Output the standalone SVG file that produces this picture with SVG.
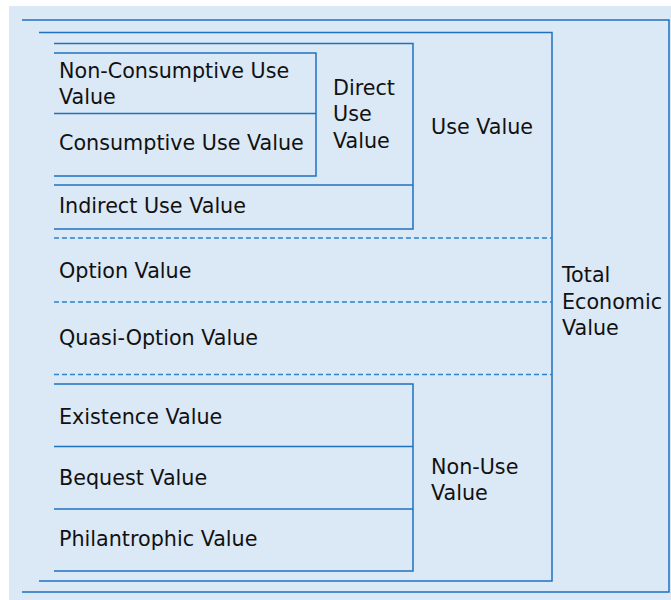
<svg xmlns="http://www.w3.org/2000/svg" width="671" height="600" viewBox="0 0 671 600">
<style>
.ln{fill:none;stroke:#1f72bf;stroke-width:1.5}
.ds{fill:none;stroke:#2a83cc;stroke-width:1.3;stroke-dasharray:5 3}
text{font-family:"DejaVu Sans",Verdana,sans-serif;font-size:20.7px;fill:#111}
</style>
<rect x="9" y="6" width="662" height="594" fill="#dbe8f6"/>
<g id="total">
<path class="ln" d="M22 20H669V592H22"/>
<text x="562" y="282">Total</text>
<text x="562" y="308.5">Economic</text>
<text x="562" y="335">Value</text>
</g>
<g id="use-group">
<path class="ln" d="M39 32.5H552V581H39"/>
</g>
<g id="use-value">
<path class="ln" d="M54 43.5H413V229H54"/>
<text x="431" y="133.5">Use Value</text>
</g>
<g id="direct-use">
<path class="ln" d="M54 53H316V176H54"/>
<text x="333" y="94.5">Direct</text>
<text x="333" y="121">Use</text>
<text x="333" y="147.5">Value</text>
</g>
<g id="non-consumptive">
<path class="ln" d="M54 113.5H316"/>
<text x="59" y="77.5">Non-Consumptive Use</text>
<text x="59" y="103.5">Value</text>
</g>
<g id="consumptive">
<text x="59" y="149.5">Consumptive Use Value</text>
</g>
<g id="indirect">
<path class="ln" d="M54 185H413"/>
<text x="59" y="213">Indirect Use Value</text>
</g>
<g id="option">
<text x="59" y="277.5">Option Value</text>
</g>
<g id="quasi-option">
<text x="59" y="345">Quasi-Option Value</text>
</g>
<g id="non-use">
<path class="ln" d="M54 384H413V571H54"/>
<text x="431" y="473.5">Non-Use</text>
<text x="431" y="499.5">Value</text>
</g>
<g id="existence">
<text x="59" y="423.5">Existence Value</text>
</g>
<g id="bequest">
<path class="ln" d="M54 446.5H413"/>
<text x="59" y="484.5">Bequest Value</text>
</g>
<g id="philanthropic">
<path class="ln" d="M54 509H413"/>
<text x="59" y="546">Philantrophic Value</text>
</g>
<g id="connectors">
<path class="ds" d="M54 238H552M54 302H552M54 374.5H552"/>
</g>
</svg>
